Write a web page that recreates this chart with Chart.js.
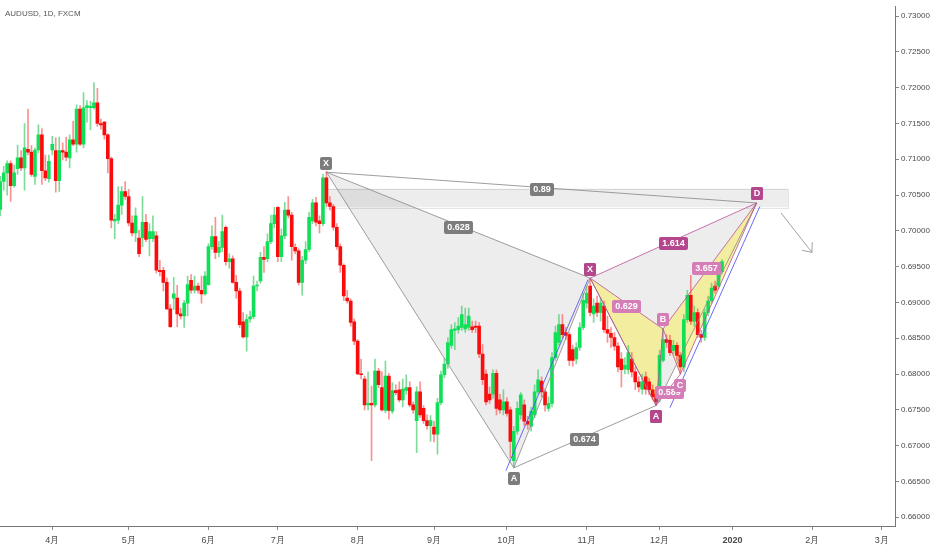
<!DOCTYPE html>
<html><head><meta charset="utf-8">
<script src="https://cdn.jsdelivr.net/npm/chart.js@4.4.1/dist/chart.umd.min.js"></script>
<style>html,body{margin:0;padding:0;background:#fff;}#wrap{width:932px;height:550px;position:relative;}</style>
</head><body><div id="wrap"><canvas id="c" width="932" height="550"></canvas></div>
<script>
// ---- daily AUDUSD candles, bar index 0 = 2019-03-11 ----
const opens = [
0.7030,0.7069,0.7081,0.7094,0.7063,0.7087,0.7102,0.7088,0.7114,0.7110,
0.7076,0.7113,0.7134,0.7084,0.7073,0.7113,0.7112,0.7070,0.7112,0.7110,
0.7102,0.7127,0.7121,0.7170,0.7121,0.7172,0.7172,0.7172,0.7179,0.7150,
0.7152,0.7134,0.7101,0.7014,0.7015,0.7036,0.7055,0.7048,0.7011,0.6997,
0.6990,0.6990,0.7012,0.6989,0.6989,0.6993,0.6945,0.6945,0.6928,0.6891,
0.6906,0.6906,0.6884,0.6881,0.6899,0.6931,0.6917,0.6923,0.6917,0.6912,
0.6925,0.6978,0.6992,0.6970,0.6977,0.7005,0.6957,0.6961,0.6928,0.6916,
0.6873,0.6852,0.6877,0.6880,0.6923,0.6930,0.6963,0.6961,0.6985,0.7010,
0.7033,0.6964,0.6993,0.7029,0.7022,0.6977,0.6972,0.6928,0.6959,0.6974,
0.7014,0.7039,0.7014,0.7010,0.7074,0.7039,0.7034,0.7005,0.6978,0.6952,
0.6906,0.6902,0.6873,0.6846,0.6800,0.6793,0.6757,0.6759,0.6757,0.6804,
0.6781,0.6749,0.6797,0.6748,0.6777,0.6778,0.6764,0.6777,0.6781,0.6757,
0.6735,0.6775,0.6752,0.6735,0.6728,0.6726,0.6716,0.6760,0.6799,0.6814,
0.6840,0.6861,0.6862,0.6865,0.6863,0.6865,0.6866,0.6867,0.6867,0.6828,
0.6800,0.6772,0.6772,0.6801,0.6764,0.6750,0.6761,0.6750,0.6679,0.6720,
0.6743,0.6757,0.6734,0.6727,0.6743,0.6775,0.6790,0.6775,0.6752,0.6759,
0.6823,0.6844,0.6869,0.6858,0.6855,0.6834,0.6821,0.6837,0.6865,0.6899,
0.6923,0.6884,0.6899,0.6886,0.6895,0.6862,0.6857,0.6851,0.6839,0.6821,
0.6807,0.6806,0.6821,0.6803,0.6789,0.6779,0.6796,0.6789,0.6778,0.6772,
0.6766,0.6819,0.6848,0.6847,0.6833,0.6840,0.6826,0.6810,0.6876,0.6910,
0.6874,0.6886,0.6855,0.6851,0.6886,0.6902,0.6923,0.6923,0.6943];
const highs = [
0.7076,0.7090,0.7098,0.7098,0.7092,0.7120,0.7112,0.7150,0.7170,0.7119,
0.7116,0.7148,0.7143,0.7106,0.7106,0.7132,0.7130,0.7131,0.7123,0.7131,
0.7134,0.7153,0.7176,0.7175,0.7193,0.7182,0.7181,0.7207,0.7199,0.7156,
0.7153,0.7136,0.7103,0.7023,0.7062,0.7062,0.7069,0.7058,0.7021,0.7032,
0.7001,0.7048,0.7023,0.7010,0.7021,0.6999,0.6959,0.6949,0.6934,0.6897,
0.6935,0.6924,0.6892,0.6903,0.6937,0.6939,0.6937,0.6927,0.6937,0.6943,
0.6982,0.7007,0.7019,0.6985,0.7022,0.7007,0.6968,0.6965,0.6938,0.6920,
0.6886,0.6883,0.6888,0.6937,0.6930,0.6970,0.6978,0.6996,0.7022,0.7033,
0.7034,0.7003,0.7040,0.7048,0.7026,0.6982,0.6975,0.6964,0.6985,0.7026,
0.7044,0.7047,0.7021,0.7079,0.7083,0.7048,0.7037,0.7010,0.6982,0.6954,
0.6917,0.6905,0.6877,0.6848,0.6821,0.6797,0.6803,0.6783,0.6821,0.6808,
0.6803,0.6818,0.6801,0.6788,0.6785,0.6789,0.6793,0.6799,0.6789,0.6761,
0.6782,0.6789,0.6756,0.6743,0.6742,0.6734,0.6766,0.6804,0.6822,0.6851,
0.6869,0.6872,0.6879,0.6895,0.6892,0.6892,0.6874,0.6874,0.6872,0.6841,
0.6806,0.6782,0.6806,0.6806,0.6772,0.6778,0.6767,0.6754,0.6727,0.6761,
0.6774,0.6764,0.6741,0.6754,0.6785,0.6806,0.6796,0.6779,0.6768,0.6830,
0.6867,0.6883,0.6883,0.6865,0.6858,0.6840,0.6844,0.6872,0.6913,0.6923,
0.6934,0.6905,0.6909,0.6906,0.6902,0.6881,0.6865,0.6858,0.6844,0.6830,
0.6823,0.6840,0.6830,0.6810,0.6796,0.6800,0.6803,0.6794,0.6785,0.6778,
0.6833,0.6863,0.6855,0.6854,0.6847,0.6844,0.6830,0.6883,0.6917,0.6938,
0.6895,0.6891,0.6861,0.6891,0.6909,0.6927,0.6930,0.6950,0.6960];
const lows = [
0.7021,0.7057,0.7050,0.7041,0.7061,0.7079,0.7084,0.7057,0.7106,0.7076,
0.7065,0.7109,0.7065,0.7070,0.7068,0.7106,0.7054,0.7055,0.7099,0.7098,
0.7088,0.7119,0.7110,0.7119,0.7116,0.7152,0.7141,0.7170,0.7146,0.7142,
0.7128,0.7081,0.7004,0.6989,0.7010,0.7023,0.7044,0.7007,0.6993,0.6985,
0.6964,0.6978,0.6985,0.6965,0.6985,0.6941,0.6937,0.6916,0.6890,0.6865,
0.6890,0.6866,0.6877,0.6865,0.6881,0.6913,0.6913,0.6913,0.6899,0.6910,
0.6924,0.6974,0.6961,0.6964,0.6971,0.6952,0.6948,0.6927,0.6906,0.6865,
0.6850,0.6832,0.6872,0.6877,0.6916,0.6927,0.6942,0.6957,0.6982,0.7004,
0.6957,0.6957,0.6989,0.7018,0.6959,0.6968,0.6924,0.6910,0.6954,0.6971,
0.7010,0.7007,0.6997,0.7007,0.7034,0.7029,0.7001,0.6974,0.6942,0.6903,
0.6899,0.6867,0.6841,0.6799,0.6793,0.6750,0.6750,0.6679,0.6754,0.6781,
0.6748,0.6746,0.6737,0.6745,0.6771,0.6761,0.6754,0.6772,0.6754,0.6745,
0.6690,0.6739,0.6731,0.6723,0.6706,0.6705,0.6688,0.6757,0.6795,0.6808,
0.6836,0.6834,0.6857,0.6861,0.6858,0.6861,0.6858,0.6858,0.6823,0.6785,
0.6757,0.6759,0.6766,0.6743,0.6745,0.6743,0.6741,0.6683,0.6669,0.6716,
0.6737,0.6728,0.6723,0.6720,0.6739,0.6772,0.6768,0.6748,0.6748,0.6754,
0.6819,0.6840,0.6850,0.6848,0.6812,0.6811,0.6814,0.6833,0.6862,0.6892,
0.6881,0.6872,0.6880,0.6874,0.6858,0.6844,0.6837,0.6833,0.6803,0.6782,
0.6800,0.6800,0.6796,0.6778,0.6775,0.6772,0.6772,0.6771,0.6764,0.6756,
0.6761,0.6817,0.6837,0.6826,0.6828,0.6819,0.6800,0.6803,0.6872,0.6869,
0.6867,0.6851,0.6844,0.6847,0.6881,0.6899,0.6913,0.6919,0.6941];
const closes = [
0.7069,0.7081,0.7094,0.7063,0.7081,0.7102,0.7088,0.7116,0.7110,0.7079,
0.7113,0.7134,0.7084,0.7074,0.7097,0.7121,0.7070,0.7112,0.7110,0.7103,
0.7127,0.7121,0.7170,0.7121,0.7172,0.7175,0.7174,0.7179,0.7150,0.7148,
0.7134,0.7101,0.7015,0.7016,0.7036,0.7055,0.7048,0.7011,0.6997,0.7021,
0.6968,0.7012,0.6988,0.6999,0.6999,0.6945,0.6943,0.6928,0.6891,0.6866,
0.6912,0.6884,0.6881,0.6899,0.6925,0.6917,0.6923,0.6917,0.6912,0.6937,
0.6978,0.6992,0.6970,0.6977,0.6999,0.6957,0.6961,0.6928,0.6916,0.6869,
0.6852,0.6876,0.6880,0.6923,0.6924,0.6963,0.6960,0.6985,0.7010,0.7022,
0.6964,0.6993,0.7029,0.7022,0.6978,0.6972,0.6928,0.6959,0.6974,0.7019,
0.7039,0.7012,0.7010,0.7074,0.7039,0.7034,0.7005,0.6978,0.6952,0.6909,
0.6902,0.6872,0.6846,0.6800,0.6799,0.6757,0.6759,0.6757,0.6804,0.6785,
0.6750,0.6797,0.6749,0.6777,0.6774,0.6764,0.6779,0.6781,0.6757,0.6750,
0.6775,0.6743,0.6735,0.6728,0.6735,0.6716,0.6760,0.6799,0.6814,0.6844,
0.6862,0.6863,0.6867,0.6883,0.6869,0.6881,0.6862,0.6865,0.6828,0.6792,
0.6761,0.6764,0.6801,0.6752,0.6750,0.6761,0.6745,0.6706,0.6720,0.6752,
0.6771,0.6734,0.6730,0.6748,0.6775,0.6792,0.6775,0.6757,0.6759,0.6823,
0.6858,0.6869,0.6855,0.6854,0.6819,0.6819,0.6837,0.6865,0.6903,0.6913,
0.6886,0.6895,0.6886,0.6899,0.6862,0.6857,0.6851,0.6839,0.6810,0.6806,
0.6812,0.6830,0.6803,0.6789,0.6782,0.6789,0.6779,0.6778,0.6768,0.6761,
0.6826,0.6848,0.6844,0.6830,0.6840,0.6826,0.6810,0.6876,0.6910,0.6874,
0.6886,0.6855,0.6851,0.6886,0.6902,0.6920,0.6917,0.6945,0.6957];

// ---- axes ----
const monthTickIndex = [15,37,60,80,103,125,146,169,190,211,234,254];
const monthTickLabels = ['4月','5月','6月','7月','8月','9月','10月','11月','12月','2020','2月','3月'];
const priceTicks = [0.66,0.665,0.67,0.675,0.68,0.685,0.69,0.695,0.70,0.705,0.71,0.715,0.72,0.725,0.73];
const xRange = [-0.072, 257.85];
const yRange = [0.65877, 0.7313];

// ---- drawings ----
const pointNames = ['X','A','B','C','D'];
const grayIdx   = [94, 148, 170, 189, 218];
const grayPrice = [0.7082, 0.6669, 0.6934, 0.6756, 0.7039];
const grayRatios = ['0.628','0.674','0.89'];          // XB, AC, XD
const pinkIdx   = [170, 189, 191, 196, 218];
const pinkPrice = [0.6934, 0.6756, 0.6863, 0.6800, 0.7039];
const pinkRatios = ['0.629','0.589','1.614','3.657']; // XB, AC, XD, BD
const zoneIdx = [94, 227];
const zonePrice = [0.7059, 0.7033];
const arrowIdx = [225, 233.9];
const arrowPrice = [0.7025, 0.6970];
const blue1Idx = [145.7, 169.4];
const blue1Price = [0.6665, 0.6932];
const blue2Idx = [193, 218.9];
const blue2Price = [0.6753, 0.7034];

const UP = '#10e058', DOWN = '#fa0c0c';
const UPW = 'rgba(60,200,100,0.65)', DOWNW = 'rgba(250,70,70,0.6)';
const GRAYLINE = 'rgba(140,140,140,0.85)';
const PINKLINE = 'rgba(185,80,150,0.8)';
const BLUELINE = 'rgba(80,80,240,0.85)';

const isUp = opens.map((o,i)=>closes[i]>=o);
const wickData = opens.map((o,i)=>({x:i, y:[lows[i], highs[i]]}));
const bodyData = opens.map((o,i)=>({x:i, y:[o, closes[i]]}));

function pts(idx, price, ks){ return ks.map(k=>({x:idx[k], y:price[k]})); }
function lineDs(data, color, order, dash){
  return {type:'line', data, borderColor:color, borderWidth:1, pointRadius:0, fill:false,
    tension:0, order, borderDash: dash||[], parsing:true, spanGaps:true};
}

const datasets = [
  {type:'bar', data:wickData, backgroundColor:isUp.map(u=>u?UPW:DOWNW), barThickness:1,
   grouped:false, borderWidth:0, order:10},
  {type:'bar', data:bodyData, backgroundColor:isUp.map(u=>u?UP:DOWN), barThickness:3,
   grouped:false, borderWidth:0, minBarLength:1, order:9},
  lineDs(pts(grayIdx,grayPrice,[0,1,2,3,4]), GRAYLINE, 5),
  lineDs(pts(grayIdx,grayPrice,[0,2]), GRAYLINE, 5),
  lineDs(pts(grayIdx,grayPrice,[1,3]), GRAYLINE, 5),
  lineDs(pts(grayIdx,grayPrice,[0,4]), GRAYLINE, 5),
  lineDs(pts(pinkIdx,pinkPrice,[0,1,2,3,4]), PINKLINE, 4),
  lineDs(pts(pinkIdx,pinkPrice,[0,2]), PINKLINE, 4),
  lineDs(pts(pinkIdx,pinkPrice,[1,3]), PINKLINE, 4),
  lineDs(pts(pinkIdx,pinkPrice,[0,4]), PINKLINE, 4),
  lineDs(pts(pinkIdx,pinkPrice,[2,4]), PINKLINE, 4),
  lineDs(pts(blue1Idx,blue1Price,[0,1]), BLUELINE, 3),
  lineDs(pts(blue2Idx,blue2Price,[0,1]), BLUELINE, 3),
  lineDs(pts(arrowIdx,arrowPrice,[0,1]), 'rgba(150,150,150,0.9)', 3)
];

function tag(ctx, text, cx, cy, bg){
  ctx.font = 'bold 9px "Liberation Sans", Arial, sans-serif';
  const w = Math.round(ctx.measureText(text).width) + 6;
  const h = 13;
  const x0 = Math.round(cx - w/2), y0 = Math.round(cy - h/2);
  ctx.fillStyle = bg;
  ctx.beginPath();
  if (ctx.roundRect) ctx.roundRect(x0, y0, w, h, 2); else ctx.rect(x0, y0, w, h);
  ctx.fill();
  ctx.fillStyle = '#ffffff';
  ctx.textAlign = 'center'; ctx.textBaseline = 'middle';
  ctx.fillText(text, x0 + w/2, y0 + h/2 + 0.5);
}

const overlay = {
  id:'overlay',
  beforeDatasetsDraw(chart){
    const {ctx, scales:{x, y}} = chart;
    const P = (i,p)=>[x.getPixelForValue(i), y.getPixelForValue(p)];
    ctx.save();
    const [zx0, zy0] = P(zoneIdx[0], zonePrice[0]);
    const [zx1, zy1] = P(zoneIdx[1], zonePrice[1]);
    ctx.fillStyle = 'rgba(0,0,0,0.07)';
    ctx.fillRect(zx0, zy0, zx1-zx0, zy1-zy0);
    ctx.strokeStyle = 'rgba(0,0,0,0.10)'; ctx.lineWidth = 1;
    ctx.strokeRect(Math.round(zx0)+0.5, Math.round(zy0)+0.5, Math.round(zx1-zx0), Math.round(zy1-zy0));
    const tri = (idx, price, ks, color)=>{
      ctx.beginPath();
      ks.forEach((k,j)=>{ const [a,b] = P(idx[k], price[k]); j?ctx.lineTo(a,b):ctx.moveTo(a,b); });
      ctx.closePath(); ctx.fillStyle = color; ctx.fill();
    };
    tri(grayIdx, grayPrice, [0,1,2], 'rgba(0,0,0,0.07)');
    tri(grayIdx, grayPrice, [2,3,4], 'rgba(0,0,0,0.07)');
    tri(pinkIdx, pinkPrice, [0,1,2], 'rgba(245,235,110,0.62)');
    tri(pinkIdx, pinkPrice, [2,3,4], 'rgba(245,235,110,0.62)');
    ctx.restore();
  },
  afterDatasetsDraw(chart){
    const {ctx, scales:{x, y}} = chart;
    const P = (i,p)=>[x.getPixelForValue(i), y.getPixelForValue(p)];
    ctx.save();
    const [ax0, ay0] = P(arrowIdx[0], arrowPrice[0]);
    const [ax1, ay1] = P(arrowIdx[1], arrowPrice[1]);
    const ang = Math.atan2(ay1-ay0, ax1-ax0);
    ctx.strokeStyle = 'rgba(150,150,150,0.9)'; ctx.lineWidth = 1;
    ctx.beginPath();
    ctx.moveTo(ax1 - 10*Math.cos(ang-0.7), ay1 - 10*Math.sin(ang-0.7));
    ctx.lineTo(ax1, ay1);
    ctx.lineTo(ax1 - 10*Math.cos(ang+0.7), ay1 - 10*Math.sin(ang+0.7));
    ctx.stroke();
    const mid = (idx, price, a, b)=>{ const p1=P(idx[a],price[a]), p2=P(idx[b],price[b]); return [(p1[0]+p2[0])/2,(p1[1]+p2[1])/2]; };
    const off = [-9, 11, -9, 11, -9];
    const GB = '#7c7c7c', PD = '#b4468d', PL = '#d57db6';
    let m = mid(grayIdx,grayPrice,0,2); tag(ctx, grayRatios[0], m[0], m[1]+2, GB);
    m = mid(grayIdx,grayPrice,1,3); tag(ctx, grayRatios[1], m[0], m[1]+3, GB);
    m = mid(grayIdx,grayPrice,0,4); tag(ctx, grayRatios[2], m[0], m[1]+2, GB);
    pointNames.forEach((n,k)=>{ const [px,py]=P(grayIdx[k],grayPrice[k]); tag(ctx, n, px, py+off[k], GB); });
    m = mid(pinkIdx,pinkPrice,0,2); tag(ctx, pinkRatios[0], m[0], m[1]+3, PL);
    m = mid(pinkIdx,pinkPrice,1,3); tag(ctx, pinkRatios[1], m[0]+1, m[1]+3, PL);
    m = mid(pinkIdx,pinkPrice,0,4); tag(ctx, pinkRatios[2], m[0], m[1]+3, PD);
    m = mid(pinkIdx,pinkPrice,2,4); tag(ctx, pinkRatios[3], m[0]-3, m[1]+3, PL);
    const pinkCols = [PD, PD, PL, PL, PD];
    pointNames.forEach((n,k)=>{ const [px,py]=P(pinkIdx[k],pinkPrice[k]); tag(ctx, n, px, py+off[k], pinkCols[k]); });
    ctx.restore();
  },
  afterDraw(chart){
    const ctx = chart.ctx;
    ctx.save();
    ctx.font = '8px "Liberation Sans", Arial, sans-serif';
    ctx.fillStyle = '#555555'; ctx.textAlign='left'; ctx.textBaseline='alphabetic';
    ctx.fillText('AUDUSD, 1D, FXCM', 5, 16);
    ctx.restore();
  }
};

new Chart(document.getElementById('c'), {
  type:'bar',
  data:{datasets},
  options:{
    responsive:false, animation:false, devicePixelRatio:1,
    layout:{padding:0},
    events:[],
    plugins:{legend:{display:false}, tooltip:{enabled:false}, title:{display:false}},
    scales:{
      x:{type:'linear', min:xRange[0], max:xRange[1], offset:false, position:'bottom',
        grid:{display:true, drawOnChartArea:false, drawTicks:true, tickLength:4, color:'#888888', offset:false},
        border:{display:true, color:'#777777', width:1},
        afterBuildTicks:s=>{ s.ticks = monthTickIndex.map(v=>({value:v})); },
        afterFit:s=>{ s.height = 24; },
        ticks:{autoSkip:false, maxRotation:0, minRotation:0, padding:5, color:'#4a4a4a',
          font:c=>({family:'"Liberation Sans", Arial, sans-serif', size:9, weight: monthTickLabels[c.index]==='2020'?'bold':'normal'}),
          callback:(v,i)=>monthTickLabels[i]}
      },
      y:{type:'linear', position:'right', min:yRange[0], max:yRange[1],
        grid:{display:true, drawOnChartArea:false, drawTicks:true, tickLength:4, color:'#888888'},
        border:{display:true, color:'#777777', width:1},
        afterBuildTicks:s=>{ s.ticks = priceTicks.map(v=>({value:v})); },
        afterFit:s=>{ s.width = 37; },
        ticks:{autoSkip:false, padding:2, color:'#4a4a4a',
          font:{family:'"Liberation Sans", Arial, sans-serif', size:8},
          callback:v=>Number(v).toFixed(5)}
      }
    }
  },
  plugins:[overlay]
});
</script>
</body></html>
